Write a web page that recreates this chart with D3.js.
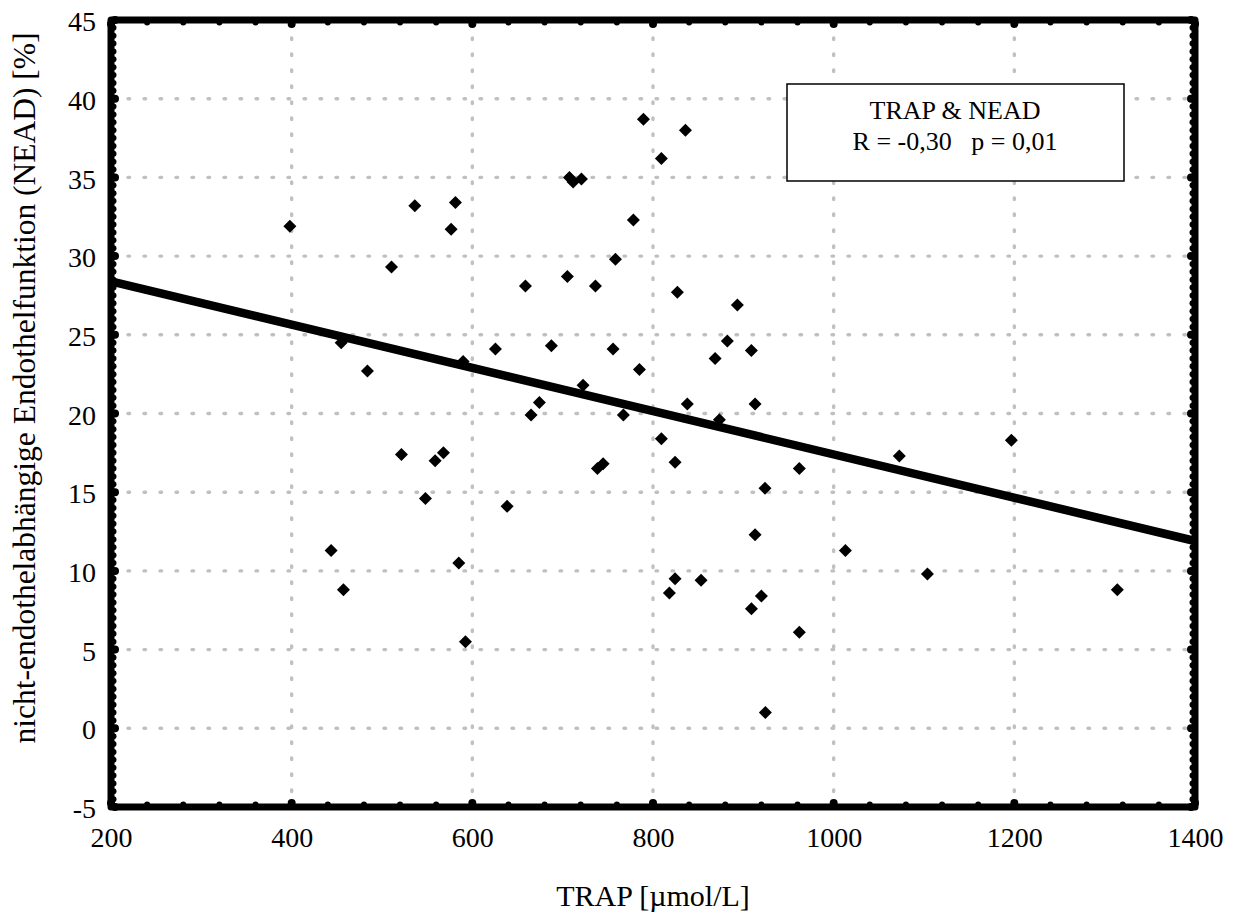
<!DOCTYPE html>
<html>
<head>
<meta charset="utf-8">
<script src="https://cdn.jsdelivr.net/npm/d3@7"></script>
<style>
  html, body { margin: 0; padding: 0; background: #ffffff; }
  svg { display: block; }
  text { font-family: "Liberation Serif", "Times New Roman", serif; fill: #000; }
</style>
</head>
<body>
<svg id="chart" width="1242" height="918"></svg>
<script>
// ---- data ----
const trap = [398, 454.8, 443.7, 457.3, 483.9, 510.5, 521.5, 536.3, 548.1, 558.8,
  568.0, 576.5, 581.3, 585.0, 589.8, 592.4, 625.6, 638.5, 658.8, 665.0,
  674.2, 687.5, 705.2, 707.5, 711.6, 720.8, 722.6, 736.3, 738.5, 744.8,
  755.8, 758.4, 767.2, 778.3, 785.0, 789.4, 809.3, 809.3, 818.1, 824.4,
  824.4, 827.0, 835.9, 838.0, 853.2, 868.8, 873.5, 882.3, 893.4, 908.9,
  909.0, 913.0, 913.0, 920.0, 924.0, 924.4, 962.0, 962.0, 1013.0, 1072.7,
  1103.8, 1196.7, 1314.0];
const nead = [31.9, 24.5, 11.3, 8.8, 22.7, 29.3, 17.4, 33.2, 14.6, 17.0,
  17.5, 31.7, 33.4, 10.5, 23.3, 5.5, 24.1, 14.1, 28.1, 19.9,
  20.7, 24.3, 28.7, 35.0, 34.7, 34.9, 21.8, 28.1, 16.5, 16.8,
  24.1, 29.8, 19.9, 32.3, 22.8, 38.7, 36.2, 18.4, 8.6, 9.5,
  16.9, 27.7, 38.0, 20.6, 9.4, 23.5, 19.6, 24.6, 26.9, 24.0,
  7.6, 12.3, 20.6, 8.4, 15.25, 1.0, 16.5, 6.1, 11.3, 17.3,
  9.8, 18.3, 8.8];
const fitX = [200, 1400];
const fitY = [28.4, 11.9];
const xTicks = [200, 400, 600, 800, 1000, 1200, 1400];
const yTicks = [-5, 0, 5, 10, 15, 20, 25, 30, 35, 40, 45];
const xGrid = [400, 600, 800, 1000, 1200];
const yGrid = [0, 5, 10, 15, 20, 25, 30, 35, 40];
const xMinor = d3.range(200, 1400.1, 40);
const yMinor = d3.range(-5, 45.01, 0.5);
const legendLines = ["TRAP & NEAD", "R = -0,30   p = 0,01"];
const xTitle = "TRAP [\u00b5mol/L]";
const yTitle = "nicht-endothelabh\u00e4ngige Endothelfunktion (NEAD) [%]";

// ---- layout ----
const L = 111, R = 1195, T = 20, B = 807;
const svg = d3.select("#chart");
const x = d3.scaleLinear().domain([200, 1400]).range([L, R]);
const y = d3.scaleLinear().domain([-5, 45]).range([B, T]);
const fmt = d => String(d); // plain hyphen-minus as in the original

// grid
const grid = svg.append("g").attr("stroke", "#c0c0c0").attr("stroke-width", 3.4)
  .attr("stroke-linecap", "round").attr("stroke-dasharray", "1.6 14.4");
grid.selectAll("line.gx").data(xGrid).enter().append("line")
  .attr("x1", d => x(d)).attr("x2", d => x(d)).attr("y1", T + 18).attr("y2", B - 6);
grid.selectAll("line.gy").data(yGrid).enter().append("line")
  .attr("x1", L + 17).attr("x2", R - 6).attr("y1", d => y(d)).attr("y2", d => y(d));

// regression line
svg.append("line")
  .attr("x1", x(fitX[0])).attr("y1", y(fitY[0]))
  .attr("x2", x(fitX[1])).attr("y2", y(fitY[1]))
  .attr("stroke", "#000").attr("stroke-width", 8.5);

// points
const pts = trap.map((v, i) => [v, nead[i]]);
svg.append("g").selectAll("path").data(pts).enter().append("path")
  .attr("d", "M0,-6.5L6.5,0L0,6.5L-6.5,0Z")
  .attr("transform", d => `translate(${x(d[0])},${y(d[1])})`)
  .attr("fill", "#000");

// legend box
const lg = svg.append("g");
lg.append("rect").attr("x", 787).attr("y", 84).attr("width", 337).attr("height", 97)
  .attr("fill", "#fff").attr("stroke", "#000").attr("stroke-width", 1.5);
lg.selectAll("text").data(legendLines).enter().append("text")
  .attr("x", 955).attr("y", (d, i) => 119 + i * 31)
  .attr("text-anchor", "middle").attr("font-size", 26)
  .style("white-space", "pre").attr("xml:space", "preserve")
  .text(d => d);

// frame
svg.append("rect").attr("x", L).attr("y", T).attr("width", R - L).attr("height", B - T)
  .attr("fill", "none").attr("stroke", "#000").attr("stroke-width", 7)
  .attr("stroke-linejoin", "round");

// tick dots
const isMajorX = d => xTicks.includes(d);
const isMajorY = d => Math.abs(d % 5) < 1e-6;
const dots = svg.append("g").attr("fill", "#000");
xMinor.forEach(d => {
  const maj = isMajorX(d);
  const r = maj ? 4 : 3, off = maj ? 4 : 2.5;
  dots.append("circle").attr("cx", x(d)).attr("cy", B - off).attr("r", r);
  dots.append("circle").attr("cx", x(d)).attr("cy", T + off).attr("r", r);
});
yMinor.forEach(d => {
  const maj = isMajorY(d);
  const r = maj ? 4 : 3, off = maj ? 4 : 2.5;
  dots.append("circle").attr("cx", L + off).attr("cy", y(d)).attr("r", r);
  dots.append("circle").attr("cx", R - off).attr("cy", y(d)).attr("r", r);
});

// axes (labels)
const xAxis = svg.append("g").attr("transform", `translate(0,${B})`)
  .call(d3.axisBottom(x).tickValues(xTicks).tickSize(0).tickFormat(fmt));
xAxis.select(".domain").remove();
xAxis.attr("font-family", "Liberation Serif");
xAxis.selectAll("text").attr("y", 40).attr("dy", null)
  .attr("font-size", 28).attr("font-family", "Liberation Serif");

const yAxis = svg.append("g").attr("transform", `translate(${L},0)`)
  .call(d3.axisLeft(y).tickValues(yTicks).tickSize(0).tickFormat(fmt));
yAxis.select(".domain").remove();
yAxis.attr("font-family", "Liberation Serif");
yAxis.selectAll("text").attr("x", -15).attr("dy", "0.38em")
  .attr("font-size", 28).attr("font-family", "Liberation Serif");

// titles
svg.append("text").attr("x", (L + R) / 2).attr("y", 906)
  .attr("text-anchor", "middle").attr("font-size", 30).text(xTitle);
svg.append("text").attr("transform", "translate(35,388) rotate(-90)")
  .attr("text-anchor", "middle").attr("font-size", 31.5).text(yTitle);
</script>
</body>
</html>
